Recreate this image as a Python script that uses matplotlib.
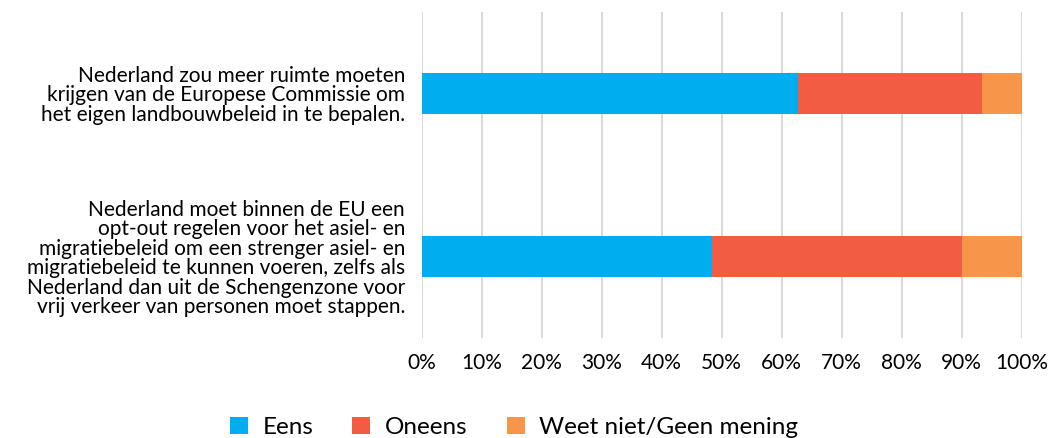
import matplotlib.pyplot as plt
import numpy as np

plt.rcParams['font.family'] = ['Lato', 'DejaVu Sans']

categories = [
    "Nederland zou meer ruimte moeten\nkrijgen van de Europese Commissie om\nhet eigen landbouwbeleid in te bepalen.",
    "Nederland moet binnen de EU een\nopt-out regelen voor het asiel- en\nmigratiebeleid om een strenger asiel- en\nmigratiebeleid te kunnen voeren, zelfs als\nNederland dan uit de Schengenzone voor\nvrij verkeer van personen moet stappen.",
]
series_names = ["Eens", "Oneens", "Weet niet/Geen mening"]
eens = [62.7, 48.3]
oneens = [30.6, 41.7]
weet_niet = [6.7, 10.0]
colors = ["#00AEEF", "#F15C42", "#F7964A"]

fig = plt.figure(figsize=(10.49, 4.38), dpi=100)
ax = fig.add_axes([0.402, 0.228, 0.572, 0.745])

y = np.arange(len(categories))
left = np.zeros(len(categories))
for vals, name, c in zip([eens, oneens, weet_niet], series_names, colors):
    ax.barh(y, vals, left=left, height=0.255, color=c, label=name, zorder=3)
    left += np.array(vals)

ax.set_ylim(1.5, -0.5)
ax.set_xlim(0, 100)
ax.set_xticks(np.arange(0, 101, 10))
ax.set_xticklabels([f"{v}%" for v in range(0, 101, 10)], fontsize=15)
ax.set_yticks(y)
ax.set_yticklabels(categories, fontsize=15, linespacing=0.97)
ax.tick_params(length=0, pad=12)
ax.tick_params(axis='x', pad=11)
ax.grid(axis='x', color='#d3d3d3', linewidth=1.2, zorder=0)
for s in ax.spines.values():
    s.set_visible(False)

ax.legend(loc='lower center', bbox_to_anchor=(0.49, -0.022), bbox_transform=fig.transFigure,
          ncol=3, frameon=False, fontsize=17.5, handlelength=0.75, handleheight=0.75,
          columnspacing=1.6, handletextpad=0.6, borderaxespad=0.0)

fig.savefig("out.png", dpi=100)
